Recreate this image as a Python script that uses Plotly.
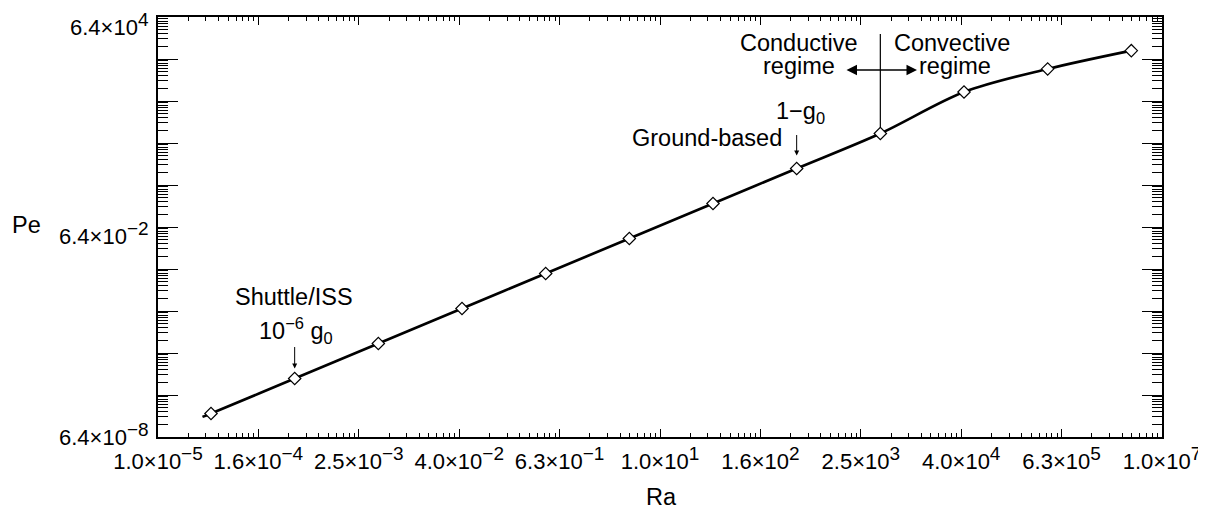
import numpy as np
import plotly.graph_objects as go

# ---- data ----
ra_points = [4.3e-5, 4.3e-4, 4.3e-3, 4.3e-2, 4.3e-1, 4.3e0, 4.3e1, 4.3e2, 4.3e3, 4.3e4, 4.3e5, 4.3e6]
pe_points = [3.0e-7, 3.0e-6, 3.0e-5, 3.0e-4, 3.0e-3, 3.0e-2, 3.0e-1, 3.0e0, 3.0e1, 4.6e2, 2.1e3, 7.0e3]
# solid curve (starts slightly left of the first marker)
ra_curve = [3.4e-5] + ra_points
pe_curve = [2.4e-7] + pe_points

x_mant = ["1.0", "1.6", "2.5", "4.0", "6.3", "1.0", "1.6", "2.5", "4.0", "6.3", "1.0"]
x_exp = ["−5", "−4", "−3", "−2", "−1", "1", "2", "3", "4", "5", "7"]
y_label_vals = [6.4e-8, 6.4e-2, 6.4e4]
y_mant = ["6.4", "6.4", "6.4"]
y_exp = ["−8", "−2", "4"]

x_min, x_max = 1.0e-5, 1.0e7
y_min, y_max = 6.4e-8, 6.4e4
n_major = 10

EXP_SIZE = 19


def sci_label(m, e):
    return f"{m}×10<sup><span style='font-size:{EXP_SIZE}px'>{e}</span></sup>"


x_tick_labels = [sci_label(m, e) for m, e in zip(x_mant, x_exp)]
y_tick_labels = [sci_label(m, e) for m, e in zip(y_mant, y_exp)]


# tick positions (11 majors evenly spaced in log, minor ticks log-spaced inside each interval)
def majors(lo, hi, n):
    v = list(np.logspace(np.log10(lo), np.log10(hi), n + 1))
    v[0], v[-1] = lo, hi
    return v


def minors(maj):
    out = []
    for a, b in zip(maj[:-1], maj[1:]):
        span = np.log10(b) - np.log10(a)
        for k in range(2, 10):
            out.append(10 ** (np.log10(a) + span * np.log10(k)))
    return out


x_major = majors(x_min, x_max, n_major)
y_major = majors(y_min, y_max, n_major)
x_minor = minors(x_major)
y_minor = minors(y_major)

FONT = "Liberation Sans, Arial, Helvetica, sans-serif"

fig = go.Figure()
fig.add_trace(go.Scatter(x=ra_curve, y=pe_curve, mode="lines",
                         line=dict(color="black", width=2.6, shape="spline", smoothing=0.9),
                         showlegend=False, hoverinfo="skip"))
fig.add_trace(go.Scatter(x=ra_points, y=pe_points, mode="markers",
                         marker=dict(symbol="diamond", size=9.5, color="white",
                                     line=dict(color="black", width=1.2)),
                         showlegend=False))

EPS = 1e-7
axis_common = dict(type="log", showgrid=False, zeroline=False, showline=True,
                   linecolor="black", linewidth=2, mirror="allticks", ticks="inside",
                   tickcolor="black", tickwidth=1, tickmode="array",
                   tickfont=dict(family=FONT, size=22, color="black"))

fig.update_xaxes(**axis_common, range=[np.log10(x_min) - EPS, np.log10(x_max) + EPS],
                 tickvals=x_major, ticktext=x_tick_labels, ticklen=8, ticklabelstandoff=4,
                 minor=dict(tickmode="array", tickvals=x_minor, ticks="inside",
                            ticklen=4, tickcolor="black", tickwidth=1, showgrid=False))
fig.update_yaxes(**axis_common, range=[np.log10(y_min) - EPS, np.log10(y_max) + EPS],
                 tickvals=y_major, showticklabels=False, ticklen=20,
                 minor=dict(tickmode="array", tickvals=y_minor, ticks="inside",
                            ticklen=10, tickcolor="black", tickwidth=1, showgrid=False))

# page has an 8px body margin: size the figure so the plot box lands at
# page pixels x 158..1162, y 17..437
OFF = 8
W, H = 1206 - OFF, 510 - OFF
L, R, T, B = 158 - OFF, 1206 - 1162, 17 - OFF, 510 - 437
pw, ph = W - L - R, H - T - B


def px(xp):  # page pixel -> paper x
    return (xp - 158) / pw


def py(yp):  # page pixel -> paper y
    return (437 - yp) / ph


tf = dict(family=FONT, size=23.5, color="black")
ann = []
# y-axis tick labels (IDL places them slightly below their ticks)
for v, lab, ys in zip(y_label_vals, y_tick_labels, [3, -6, -7]):
    ann.append(dict(text=lab, x=px(151), y=np.log10(v), xref="paper", yref="y", showarrow=False,
                    font=dict(family=FONT, size=22, color="black"), xanchor="right",
                    yanchor="middle", yshift=ys))
# axis titles
ann.append(dict(text="Ra", x=px(661), y=py(497), xref="paper", yref="paper", showarrow=False,
                font=tf, xanchor="center", yanchor="middle"))
ann.append(dict(text="Pe", x=px(26), y=py(225), xref="paper", yref="paper", showarrow=False,
                font=tf, xanchor="center", yanchor="middle"))
# texts
ann.append(dict(text="Shuttle/ISS", x=px(294), y=py(297), xref="paper", yref="paper", showarrow=False,
                font=tf, xanchor="center", yanchor="middle"))
ann.append(dict(text="10<sup>−6</sup> g<sub>0</sub>", x=px(296), y=py(330), xref="paper", yref="paper",
                showarrow=False, font=tf, xanchor="center", yanchor="middle"))
ann.append(dict(text="1−g<sub>0</sub>", x=px(800), y=py(113), xref="paper", yref="paper", showarrow=False,
                font=tf, xanchor="center", yanchor="middle"))
ann.append(dict(text="Ground-based", x=px(707), y=py(138), xref="paper", yref="paper", showarrow=False,
                font=tf, xanchor="center", yanchor="middle"))
for txt, xc, yc in [("Conductive", 799, 43), ("regime", 799, 66),
                    ("Convective", 952, 43), ("regime", 955, 66)]:
    ann.append(dict(text=txt, x=px(xc), y=py(yc), xref="paper", yref="paper",
                    showarrow=False, font=tf, xanchor="center", yanchor="middle"))
# arrows to data points
ann.append(dict(text="", x=np.log10(ra_points[1]), y=np.log10(pe_points[1]), xref="x", yref="y",
                showarrow=True, ax=0, ay=-33, arrowhead=2, arrowsize=1, arrowwidth=1,
                arrowcolor="black", standoff=10))
ann.append(dict(text="", x=np.log10(ra_points[7]), y=np.log10(pe_points[7]), xref="x", yref="y",
                showarrow=True, ax=0, ay=-35, arrowhead=2, arrowsize=1, arrowwidth=1,
                arrowcolor="black", standoff=13))
# regime boundary line
ann.append(dict(text="", x=np.log10(ra_points[8]), y=np.log10(pe_points[8]), xref="x", yref="y",
                showarrow=True, ax=0, ay=-101, arrowhead=0, arrowwidth=1.2,
                arrowcolor="black", standoff=6))
# double arrow
ann.append(dict(text="", x=px(917), y=py(70), xref="paper", yref="paper",
                showarrow=True, ax=-72, ay=0, arrowhead=2, arrowside="end+start",
                arrowsize=1.4, arrowwidth=1.5, arrowcolor="black", standoff=0, startstandoff=0))

fig.update_layout(width=W, height=H, margin=dict(l=L, r=R, t=T, b=B, autoexpand=False),
                  plot_bgcolor="white", paper_bgcolor="white", annotations=ann,
                  font=dict(family=FONT, color="black"))

fig.write_html("out.html")
